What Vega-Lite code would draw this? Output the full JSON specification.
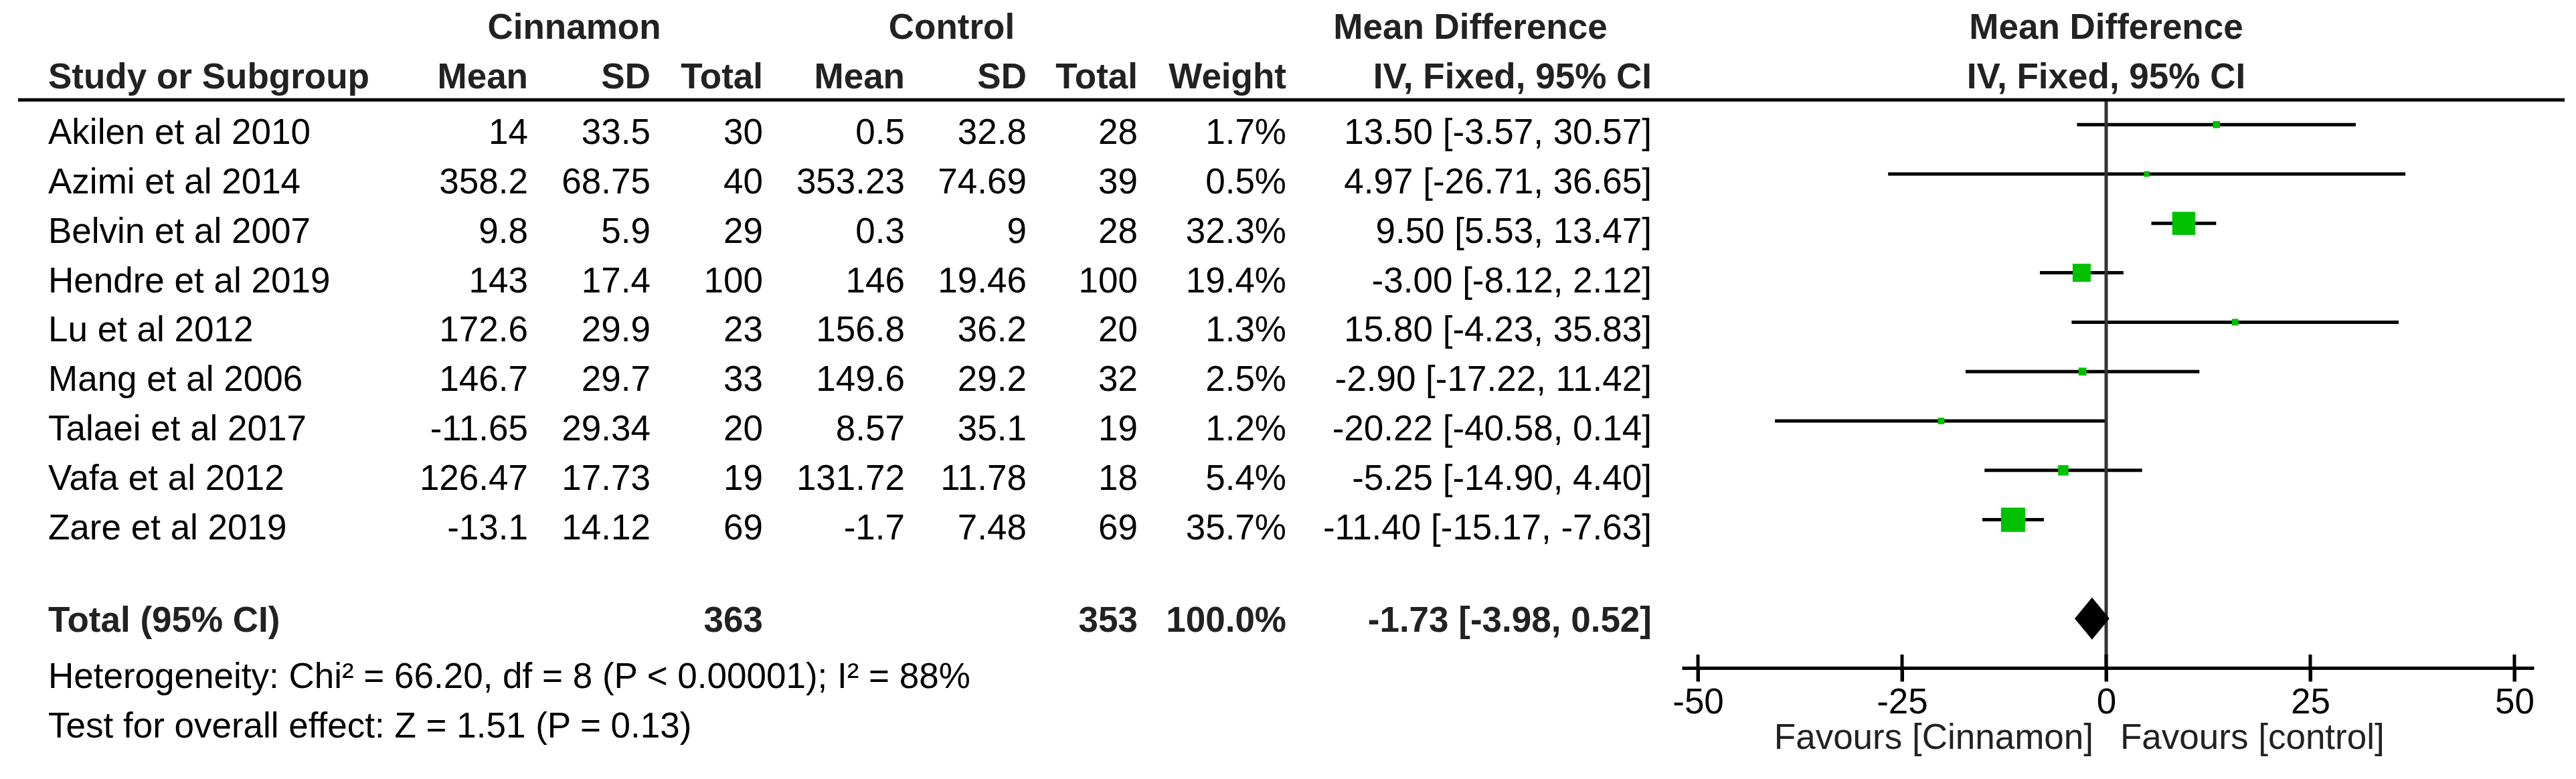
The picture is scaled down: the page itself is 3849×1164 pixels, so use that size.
{
  "$schema": "https://vega.github.io/schema/vega-lite/v6.json",
  "width": 3805,
  "height": 998,
  "autosize": {"type": "none"},
  "padding": {"left": 27, "right": 17, "top": 0, "bottom": 166},
  "background": "#ffffff",
  "config": {
    "view": {"stroke": null},
    "text": {"font": "Liberation Sans", "fontSize": 53, "baseline": "alphabetic", "color": "#000000"}
  },
  "datasets": {
    "studies": [
      {"study": "Akilen et al 2010", "row": 1, "mean1": "14", "sd1": "33.5", "n1": "30", "mean2": "0.5", "sd2": "32.8", "n2": "28", "weight": "1.7%", "ci": "13.50 [-3.57, 30.57]", "md": 13.5, "lo": -3.57, "hi": 30.57, "w": 1.7},
      {"study": "Azimi et al 2014", "row": 2, "mean1": "358.2", "sd1": "68.75", "n1": "40", "mean2": "353.23", "sd2": "74.69", "n2": "39", "weight": "0.5%", "ci": "4.97 [-26.71, 36.65]", "md": 4.97, "lo": -26.71, "hi": 36.65, "w": 0.5},
      {"study": "Belvin et al 2007", "row": 3, "mean1": "9.8", "sd1": "5.9", "n1": "29", "mean2": "0.3", "sd2": "9", "n2": "28", "weight": "32.3%", "ci": "9.50 [5.53, 13.47]", "md": 9.5, "lo": 5.53, "hi": 13.47, "w": 32.3},
      {"study": "Hendre et al 2019", "row": 4, "mean1": "143", "sd1": "17.4", "n1": "100", "mean2": "146", "sd2": "19.46", "n2": "100", "weight": "19.4%", "ci": "-3.00 [-8.12, 2.12]", "md": -3.0, "lo": -8.12, "hi": 2.12, "w": 19.4},
      {"study": "Lu et al 2012", "row": 5, "mean1": "172.6", "sd1": "29.9", "n1": "23", "mean2": "156.8", "sd2": "36.2", "n2": "20", "weight": "1.3%", "ci": "15.80 [-4.23, 35.83]", "md": 15.8, "lo": -4.23, "hi": 35.83, "w": 1.3},
      {"study": "Mang et al 2006", "row": 6, "mean1": "146.7", "sd1": "29.7", "n1": "33", "mean2": "149.6", "sd2": "29.2", "n2": "32", "weight": "2.5%", "ci": "-2.90 [-17.22, 11.42]", "md": -2.9, "lo": -17.22, "hi": 11.42, "w": 2.5},
      {"study": "Talaei et al 2017", "row": 7, "mean1": "-11.65", "sd1": "29.34", "n1": "20", "mean2": "8.57", "sd2": "35.1", "n2": "19", "weight": "1.2%", "ci": "-20.22 [-40.58, 0.14]", "md": -20.22, "lo": -40.58, "hi": 0.14, "w": 1.2},
      {"study": "Vafa et al 2012", "row": 8, "mean1": "126.47", "sd1": "17.73", "n1": "19", "mean2": "131.72", "sd2": "11.78", "n2": "18", "weight": "5.4%", "ci": "-5.25 [-14.90, 4.40]", "md": -5.25, "lo": -14.9, "hi": 4.4, "w": 5.4},
      {"study": "Zare et al 2019", "row": 9, "mean1": "-13.1", "sd1": "14.12", "n1": "69", "mean2": "-1.7", "sd2": "7.48", "n2": "69", "weight": "35.7%", "ci": "-11.40 [-15.17, -7.63]", "md": -11.4, "lo": -15.17, "hi": -7.63, "w": 35.7}
    ],
    "total": [
      {"study": "Total (95% CI)", "row": 11, "n1": "363", "n2": "353", "weight": "100.0%", "ci": "-1.73 [-3.98, 0.52]", "md": -1.73, "lo": -3.98, "hi": 0.52}
    ],
    "columns": [
      {"key": "study", "col": 0},
      {"key": "mean1", "col": 1},
      {"key": "sd1", "col": 2},
      {"key": "n1", "col": 3},
      {"key": "mean2", "col": 4},
      {"key": "sd2", "col": 5},
      {"key": "n2", "col": 6},
      {"key": "weight", "col": 7},
      {"key": "ci", "col": 8}
    ],
    "groupHeaders": [
      {"label": "Cinnamon", "col": 1.5, "row": -1},
      {"label": "Control", "col": 4.5, "row": -1},
      {"label": "Mean Difference", "col": 7.5, "row": -1}
    ],
    "colHeaders": [
      {"label": "Mean", "col": 1, "row": 0},
      {"label": "SD", "col": 2, "row": 0},
      {"label": "Total", "col": 3, "row": 0},
      {"label": "Mean", "col": 4, "row": 0},
      {"label": "SD", "col": 5, "row": 0},
      {"label": "Total", "col": 6, "row": 0},
      {"label": "Weight", "col": 7, "row": 0},
      {"label": "IV, Fixed, 95% CI", "col": 8, "row": 0}
    ],
    "footnotes": [
      {"label": "Heterogeneity: Chi² = 66.20, df = 8 (P < 0.00001); I² = 88%", "row": 12},
      {"label": "Test for overall effect: Z = 1.51 (P = 0.13)", "row": 13}
    ],
    "forestHeaders": [
      {"label": "Mean Difference", "row": -1},
      {"label": "IV, Fixed, 95% CI", "row": 0}
    ],
    "ticks": [{"v": -50}, {"v": -25}, {"v": 0}, {"v": 25}, {"v": 50}]
  },
  "layer": [
    {
      "data": {"name": "groupHeaders"},
      "mark": {"type": "text", "align": "center", "fontWeight": "bold", "dy": 19.5, "color": "#222222"},
      "encoding": {
        "x": {"field": "col", "type": "quantitative", "axis": null, "scale": {"domain": [0, 1, 1.5, 2, 3, 4, 4.5, 5, 6, 7, 7.5, 8], "range": [45, 762, 831, 945, 1113, 1325, 1395, 1507, 1673, 1895, 2170, 2441], "nice": false, "zero": false}},
        "y": {"field": "row", "type": "quantitative", "axis": null, "scale": {"domain": [-1.523, 12], "reverse": true, "nice": false, "zero": false}},
        "text": {"field": "label", "type": "nominal"}
      }
    },
    {
      "data": {"name": "colHeaders"},
      "mark": {"type": "text", "align": "right", "fontWeight": "bold", "dy": 19.5, "color": "#222222"},
      "encoding": {
        "x": {"field": "col", "type": "quantitative", "axis": null, "scale": {"domain": [0, 1, 1.5, 2, 3, 4, 4.5, 5, 6, 7, 7.5, 8], "range": [45, 762, 831, 945, 1113, 1325, 1395, 1507, 1673, 1895, 2170, 2441], "nice": false, "zero": false}},
        "y": {"field": "row", "type": "quantitative", "axis": null, "scale": {"domain": [-1.523, 12], "reverse": true, "nice": false, "zero": false}},
        "text": {"field": "label", "type": "nominal"}
      }
    },
    {
      "data": {"values": [{"label": "Study or Subgroup", "row": 0}]},
      "mark": {"type": "text", "align": "left", "fontWeight": "bold", "dy": 19.5, "color": "#222222"},
      "encoding": {
        "x": {"datum": 0, "type": "quantitative", "axis": null, "scale": {"domain": [0, 1, 1.5, 2, 3, 4, 4.5, 5, 6, 7, 7.5, 8], "range": [45, 762, 831, 945, 1113, 1325, 1395, 1507, 1673, 1895, 2170, 2441], "nice": false, "zero": false}},
        "y": {"field": "row", "type": "quantitative", "axis": null, "scale": {"domain": [-1.523, 12], "reverse": true, "nice": false, "zero": false}},
        "text": {"field": "label", "type": "nominal"}
      }
    },
    {
      "data": {"name": "studies"},
      "mark": {"type": "text", "align": "left", "dy": 29},
      "encoding": {
        "x": {"datum": 0, "type": "quantitative", "axis": null, "scale": {"domain": [0, 1, 1.5, 2, 3, 4, 4.5, 5, 6, 7, 7.5, 8], "range": [45, 762, 831, 945, 1113, 1325, 1395, 1507, 1673, 1895, 2170, 2441], "nice": false, "zero": false}},
        "y": {"field": "row", "type": "quantitative", "axis": null, "scale": {"domain": [-1.523, 12], "reverse": true, "nice": false, "zero": false}},
        "text": {"field": "study", "type": "nominal"}
      }
    },
    {
      "data": {"name": "studies"},
      "transform": [
        {"fold": ["mean1", "sd1", "n1", "mean2", "sd2", "n2", "weight", "ci"], "as": ["key", "value"]},
        {"lookup": "key", "from": {"data": {"name": "columns"}, "key": "key", "fields": ["col"]}}
      ],
      "mark": {"type": "text", "align": "right", "dy": 29},
      "encoding": {
        "x": {"field": "col", "type": "quantitative", "axis": null, "scale": {"domain": [0, 1, 1.5, 2, 3, 4, 4.5, 5, 6, 7, 7.5, 8], "range": [45, 762, 831, 945, 1113, 1325, 1395, 1507, 1673, 1895, 2170, 2441], "nice": false, "zero": false}},
        "y": {"field": "row", "type": "quantitative", "axis": null, "scale": {"domain": [-1.523, 12], "reverse": true, "nice": false, "zero": false}},
        "text": {"field": "value", "type": "nominal"}
      }
    },
    {
      "data": {"name": "total"},
      "mark": {"type": "text", "align": "left", "fontWeight": "bold", "dy": 20, "color": "#222222"},
      "encoding": {
        "x": {"datum": 0, "type": "quantitative", "axis": null, "scale": {"domain": [0, 1, 1.5, 2, 3, 4, 4.5, 5, 6, 7, 7.5, 8], "range": [45, 762, 831, 945, 1113, 1325, 1395, 1507, 1673, 1895, 2170, 2441], "nice": false, "zero": false}},
        "y": {"field": "row", "type": "quantitative", "axis": null, "scale": {"domain": [-1.523, 12], "reverse": true, "nice": false, "zero": false}},
        "text": {"field": "study", "type": "nominal"}
      }
    },
    {
      "data": {"name": "total"},
      "transform": [
        {"fold": ["n1", "n2", "weight", "ci"], "as": ["key", "value"]},
        {"lookup": "key", "from": {"data": {"name": "columns"}, "key": "key", "fields": ["col"]}}
      ],
      "mark": {"type": "text", "align": "right", "fontWeight": "bold", "dy": 20, "color": "#222222"},
      "encoding": {
        "x": {"field": "col", "type": "quantitative", "axis": null, "scale": {"domain": [0, 1, 1.5, 2, 3, 4, 4.5, 5, 6, 7, 7.5, 8], "range": [45, 762, 831, 945, 1113, 1325, 1395, 1507, 1673, 1895, 2170, 2441], "nice": false, "zero": false}},
        "y": {"field": "row", "type": "quantitative", "axis": null, "scale": {"domain": [-1.523, 12], "reverse": true, "nice": false, "zero": false}},
        "text": {"field": "value", "type": "nominal"}
      }
    },
    {
      "data": {"name": "footnotes"},
      "mark": {"type": "text", "align": "left", "dy": 30},
      "encoding": {
        "x": {"datum": 0, "type": "quantitative", "axis": null, "scale": {"domain": [0, 1, 1.5, 2, 3, 4, 4.5, 5, 6, 7, 7.5, 8], "range": [45, 762, 831, 945, 1113, 1325, 1395, 1507, 1673, 1895, 2170, 2441], "nice": false, "zero": false}},
        "y": {"field": "row", "type": "quantitative", "axis": null, "scale": {"domain": [-1.523, 12], "reverse": true, "nice": false, "zero": false}},
        "text": {"field": "label", "type": "nominal"}
      }
    },
    {
      "data": {"name": "studies"},
      "mark": {"type": "rule", "color": "#000000", "strokeWidth": 5},
      "encoding": {
        "x": {"field": "lo", "type": "quantitative", "title": null, "scale": {"domain": [-51.97, 52.38], "range": [2486, 3759], "nice": false, "zero": false},
          "axis": {"values": [-50, -25, 0, 25, 50], "title": null, "grid": false, "domainColor": "#000000", "domainWidth": 5, "tickColor": "#000000", "tickWidth": 5, "tickSize": 20, "labelFont": "Liberation Sans", "labelFontSize": 53, "labelColor": "#000000", "labelPadding": 5, "labelFlush": false, "labelOverlap": false, "labelExpr": "'' + datum.value"}},
        "x2": {"field": "hi"},
        "y": {"field": "row", "type": "quantitative", "axis": null, "scale": {"domain": [-1.523, 12], "reverse": true, "nice": false, "zero": false}}
      }
    },
    {
      "data": {"values": [{}]},
      "mark": {"type": "rule", "color": "#333333", "strokeWidth": 5},
      "encoding": {
        "x": {"datum": 0, "type": "quantitative", "axis": null, "scale": {"domain": [-51.97, 52.38], "range": [2486, 3759], "nice": false, "zero": false}},
        "y": {"datum": 0.5, "type": "quantitative", "axis": null, "scale": {"domain": [-1.523, 12], "reverse": true, "nice": false, "zero": false}},
        "y2": {"datum": 12}
      }
    },
    {
      "data": {"name": "studies"},
      "mark": {"type": "point", "shape": "square", "filled": true, "color": "#00c000", "opacity": 1, "strokeWidth": 0},
      "encoding": {
        "x": {"field": "md", "type": "quantitative", "axis": null, "scale": {"domain": [-51.97, 52.38], "range": [2486, 3759], "nice": false, "zero": false}},
        "y": {"field": "row", "type": "quantitative", "axis": null, "scale": {"domain": [-1.523, 12], "reverse": true, "nice": false, "zero": false}},
        "size": {"field": "w", "type": "quantitative", "legend": null, "scale": {"domain": [0.5, 35.7], "range": [70, 1300], "zero": false}}
      }
    },
    {
      "data": {"name": "total"},
      "mark": {"type": "point", "shape": "M-0.825,0L0,-1L0.825,0L0,1Z", "size": 3969, "filled": true, "color": "#000000", "opacity": 1, "strokeWidth": 0},
      "encoding": {
        "x": {"field": "md", "type": "quantitative", "axis": null, "scale": {"domain": [-51.97, 52.38], "range": [2486, 3759], "nice": false, "zero": false}},
        "y": {"field": "row", "type": "quantitative", "axis": null, "scale": {"domain": [-1.523, 12], "reverse": true, "nice": false, "zero": false}}
      }
    },
    {
      "data": {"name": "ticks"},
      "mark": {"type": "tick", "orient": "vertical", "size": 40, "thickness": 5, "color": "#000000", "opacity": 1},
      "encoding": {
        "x": {"field": "v", "type": "quantitative", "axis": null, "scale": {"domain": [-51.97, 52.38], "range": [2486, 3759], "nice": false, "zero": false}},
        "y": {"datum": 12, "type": "quantitative", "axis": null, "scale": {"domain": [-1.523, 12], "reverse": true, "nice": false, "zero": false}}
      }
    },
    {
      "data": {"name": "forestHeaders"},
      "mark": {"type": "text", "align": "center", "fontWeight": "bold", "dy": 19.5, "color": "#222222"},
      "encoding": {
        "x": {"datum": 0, "type": "quantitative", "axis": null, "scale": {"domain": [-51.97, 52.38], "range": [2486, 3759], "nice": false, "zero": false}},
        "y": {"field": "row", "type": "quantitative", "axis": null, "scale": {"domain": [-1.523, 12], "reverse": true, "nice": false, "zero": false}},
        "text": {"field": "label", "type": "nominal"}
      }
    },
    {
      "data": {"values": [{"label": "Favours [Cinnamon]"}]},
      "mark": {"type": "text", "align": "right", "dx": -19, "dy": 47, "color": "#222222"},
      "encoding": {
        "x": {"datum": 0, "type": "quantitative", "axis": null, "scale": {"domain": [-51.97, 52.38], "range": [2486, 3759], "nice": false, "zero": false}},
        "y": {"datum": 13, "type": "quantitative", "axis": null, "scale": {"domain": [-1.523, 12], "reverse": true, "nice": false, "zero": false}},
        "text": {"field": "label", "type": "nominal"}
      }
    },
    {
      "data": {"values": [{"label": "Favours [control]"}]},
      "mark": {"type": "text", "align": "left", "dx": 21, "dy": 47, "color": "#222222"},
      "encoding": {
        "x": {"datum": 0, "type": "quantitative", "axis": null, "scale": {"domain": [-51.97, 52.38], "range": [2486, 3759], "nice": false, "zero": false}},
        "y": {"datum": 13, "type": "quantitative", "axis": null, "scale": {"domain": [-1.523, 12], "reverse": true, "nice": false, "zero": false}},
        "text": {"field": "label", "type": "nominal"}
      }
    },
    {
      "data": {"values": [{}]},
      "mark": {"type": "rule", "color": "#000000", "strokeWidth": 5},
      "encoding": {
        "y": {"datum": 0.5, "type": "quantitative", "axis": null, "scale": {"domain": [-1.523, 12], "reverse": true, "nice": false, "zero": false}}
      }
    }
  ],
  "resolve": {"scale": {"x": "independent"}, "axis": {"x": "independent"}}
}
